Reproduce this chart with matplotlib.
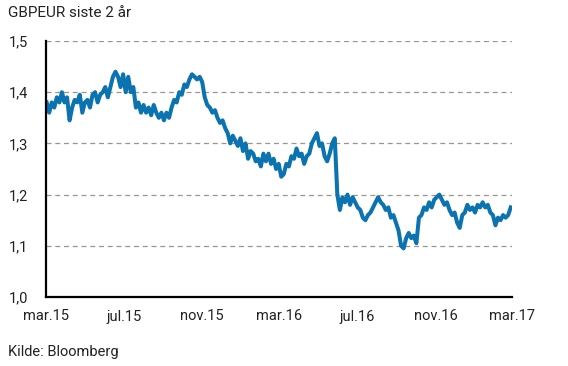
import matplotlib
matplotlib.use("Agg")
import matplotlib.pyplot as plt
import pandas as pd

title = "GBPEUR siste 2 år"
source = "Kilde: Bloomberg"
start_date = "2015-03-02"
step = "4D"
values = [
    1.38, 1.36, 1.38, 1.37, 1.39, 1.38, 1.40, 1.38, 1.39, 1.345,
    1.37, 1.385, 1.38, 1.395, 1.36, 1.38, 1.385, 1.37, 1.395, 1.40,
    1.38, 1.395, 1.40, 1.41, 1.39, 1.41, 1.43, 1.44, 1.43, 1.41,
    1.435, 1.40, 1.43, 1.40, 1.41, 1.37, 1.38, 1.36, 1.375, 1.36,
    1.37, 1.355, 1.375, 1.36, 1.35, 1.36, 1.345, 1.36, 1.35, 1.37,
    1.385, 1.38, 1.40, 1.395, 1.415, 1.41, 1.425, 1.435, 1.43, 1.425,
    1.43, 1.42, 1.39, 1.375, 1.37, 1.36, 1.365, 1.35, 1.34, 1.345,
    1.33, 1.32, 1.30, 1.315, 1.305, 1.295, 1.31, 1.285, 1.30, 1.27,
    1.285, 1.28, 1.265, 1.27, 1.255, 1.28, 1.265, 1.28, 1.26, 1.27,
    1.25, 1.26, 1.235, 1.24, 1.26, 1.255, 1.275, 1.27, 1.29, 1.275,
    1.28, 1.26, 1.275, 1.28, 1.30, 1.31, 1.32, 1.295, 1.30, 1.275,
    1.265, 1.28, 1.30, 1.31, 1.20, 1.17, 1.195, 1.185, 1.20, 1.18,
    1.195, 1.185, 1.175, 1.17, 1.155, 1.15, 1.16, 1.165, 1.175, 1.185,
    1.195, 1.185, 1.18, 1.17, 1.175, 1.155, 1.16, 1.145, 1.13, 1.10,
    1.095, 1.115, 1.125, 1.115, 1.12, 1.105, 1.155, 1.16, 1.175, 1.17,
    1.185, 1.175, 1.19, 1.195, 1.20, 1.19, 1.18, 1.185, 1.17, 1.16,
    1.165, 1.145, 1.135, 1.16, 1.165, 1.18, 1.17, 1.175, 1.165, 1.18,
    1.175, 1.185, 1.175, 1.18, 1.165, 1.16, 1.14, 1.155, 1.15, 1.16,
    1.155, 1.16, 1.175,
]
tick_dates = ["2015-03-01", "2015-07-01", "2015-11-01", "2016-03-01",
              "2016-07-01", "2016-11-01", "2017-03-01"]
tick_labels = ["mar.15", "jul.15", "nov.15", "mar.16", "jul.16", "nov.16", "mar.17"]
y_ticks = [1.0, 1.1, 1.2, 1.3, 1.4, 1.5]
y_labels = ["1,0", "1,1", "1,2", "1,3", "1,4", "1,5"]

dates = pd.date_range(start_date, periods=len(values), freq=step)

plt.rcParams['font.family'] = ['Roboto', 'DejaVu Sans']
fig = plt.figure(figsize=(5.68, 3.66), dpi=100)
ax = fig.add_axes([46/568, 1-297/366, (512-46)/568, (297-41)/366])

for yv in y_ticks[1:]:
    ax.axhline(yv, color="#a0948e", lw=0.9, ls=(0, (4, 3)), zorder=1)

ax.plot(dates, values, color="#0a73b0", lw=2.9, solid_joinstyle="round", zorder=3)

ax.set_ylim(1.0, 1.5)
ax.set_xlim(pd.Timestamp(tick_dates[0]), pd.Timestamp(tick_dates[-1]))
ax.set_yticks(y_ticks)
ax.set_yticklabels(y_labels)
ax.set_xticks([pd.Timestamp(d) for d in tick_dates])
ax.set_xticklabels(tick_labels)
ax.tick_params(axis="both", length=0, labelsize=10.5, colors="#222222")
ax.tick_params(axis="y", pad=13)
ax.tick_params(axis="x", pad=9)
for s in ["top", "right"]:
    ax.spines[s].set_visible(False)
for s in ["left", "bottom"]:
    ax.spines[s].set_linewidth(1.6)
    ax.spines[s].set_color("black")
    ax.spines[s].set_zorder(4)

fig.text(8/568, 1-13/366, title, fontsize=11, va="center", ha="left", color="#222222")
fig.text(8/568, 1-352/366, source, fontsize=10.5, va="center", ha="left", color="#222222")

fig.savefig("out.png", dpi=100)
